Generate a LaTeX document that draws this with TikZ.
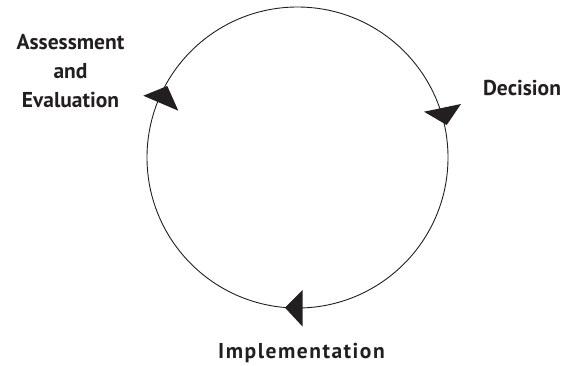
\documentclass[tikz,border=0pt]{standalone}
\usepackage{fontspec}
\setmainfont{PT Sans}
\usepackage{xcolor}
\definecolor{ink}{HTML}{231F20}

\begin{document}
\begin{tikzpicture}[x=1pt,y=-1pt,thin]
                \tikzset{phase/.style={font=\bfseries\fontsize{21.5}{29}\selectfont, text=ink, inner sep=0pt, align=center, anchor=base},
                         tip/.style={fill=ink, draw=none}}
                \useasboundingbox (0,0) rectangle (564,365);
                \coordinate (O) at (297.5,157.5);
                \draw[ink, line width=0.9pt] (O) circle (150.5);
                % arrowheads on the cycle
                \fill[tip] (143.3,95.7) -- (167.3,86) -- (178.3,110.7) -- cycle;
                \fill[tip] (446.7,125) -- (424,111.7) -- (461,104) -- cycle;
                \fill[tip] (285,307.7) -- (302.7,290) -- (302.7,326.7) -- cycle;
                % phase labels
                \node[phase] (decision) at (522,95) {Decision};
                \node[phase] (implementation) at (301.5,358) {\addfontfeature{LetterSpace=7}Implementation};
                \node[phase] (assessment) at (70.5,107) {Assessment\\and\\Evaluation};
            \end{tikzpicture}
\end{document}
